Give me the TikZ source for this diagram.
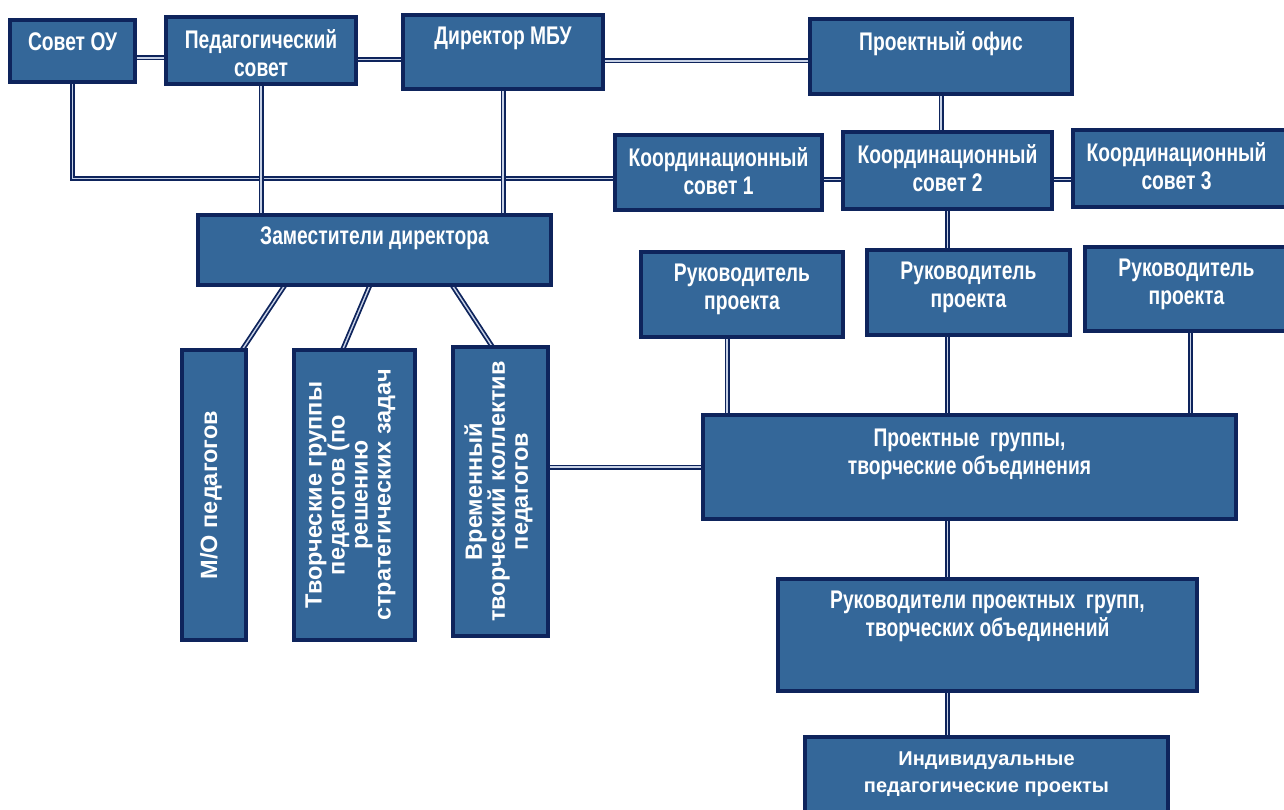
\documentclass[tikz,border=0pt]{standalone}
\usepackage{fontspec}
\setmainfont{Liberation Sans}
\newfontfamily\cond[FakeStretch=0.755]{Liberation Sans}
\usepackage{tikz}
\usetikzlibrary{positioning,calc,backgrounds}
\usepackage{xcolor}
\definecolor{boxfill}{RGB}{52,103,153}
\definecolor{boxline}{RGB}{14,36,92}
\definecolor{linelight}{RGB}{200,210,230}

\tikzset{
  blk/.style={draw=boxline, fill=boxfill, line width=4pt, inner sep=0pt, outer sep=0pt, anchor=north west},
  ttl/.style={anchor=north, inner sep=0pt, text=white, align=center,
    font=\cond\bfseries\fontsize{25.5}{28}\selectfont},
  ttlw/.style={anchor=north, inner sep=0pt, text=white, align=center,
    font=\bfseries\fontsize{20}{27}\selectfont},
  vtxt/.style={rotate=90, inner sep=0pt, text=white, align=center,
    font=\bfseries\fontsize{23.5}{23}\selectfont},
  conn/.style={draw=boxline, line width=1.8pt, double=linelight, double distance=1.4pt}
}

\begin{document}
\begin{tikzpicture}[x=1pt, y=-1pt]
  \useasboundingbox (0,0) rectangle (1284,810);

  % Top row
  \node[blk, minimum width=125pt, minimum height=62pt] (sovet) at (10,20) {};
  \node[ttl] at ([yshift=-12pt]sovet.north) {Совет ОУ};
  \node[blk, minimum width=190pt, minimum height=67pt] (pedsov) at (166,17) {};
  \node[ttl] at ([yshift=-12pt]pedsov.north) {Педагогический\\совет};
  \node[blk, minimum width=200pt, minimum height=74pt] (dir) at (403,15) {};
  \node[ttl] at ([yshift=-12pt]dir.north) {Директор МБУ};
  \node[blk, minimum width=262pt, minimum height=75pt] (office) at (810,19) {};
  \node[ttl] at ([yshift=-12pt]office.north) {Проектный офис};

  % Coordination councils
  \node[blk, minimum width=207pt, minimum height=75pt] (koord1) at (615,135) {};
  \node[ttl] at ([yshift=-12pt]koord1.north) {Координационный\\совет 1};
  \node[blk, minimum width=209pt, minimum height=77pt] (koord2) at (843,132) {};
  \node[ttl] at ([yshift=-12pt]koord2.north) {Координационный\\совет 2};
  \node[blk, minimum width=217pt, minimum height=77pt] (koord3) at (1073,130) {};
  \node[ttl] at ([xshift=-5pt, yshift=-12pt]koord3.north) {Координационный\\совет 3};

  % Deputies
  \node[blk, minimum width=353pt, minimum height=70pt] (zam) at (198,215) {};
  \node[ttl] at ([yshift=-12pt]zam.north) {Заместители директора};

  % Project leaders
  \node[blk, minimum width=202pt, minimum height=85pt] (ruk1) at (641,252) {};
  \node[ttl] at ([yshift=-12pt]ruk1.north) {Руководитель\\проекта};
  \node[blk, minimum width=203pt, minimum height=85pt] (ruk2) at (867,250) {};
  \node[ttl] at ([yshift=-12pt]ruk2.north) {Руководитель\\проекта};
  \node[blk, minimum width=211pt, minimum height=84pt] (ruk3) at (1085,247) {};
  \node[ttl] at ([xshift=-4pt, yshift=-12pt]ruk3.north) {Руководитель\\проекта};

  % Vertical boxes
  \node[blk, minimum width=64pt, minimum height=290pt] (mo) at (182,350) {};
  \node[vtxt] at ([xshift=-3pt]mo.center) {М/О педагогов};
  \node[blk, minimum width=121pt, minimum height=290pt] (tvor) at (294,350) {};
  \node[vtxt] at ([xshift=-4pt]tvor.center) {Творческие группы\\педагогов (по\\решению\\стратегических задач};
  \node[blk, minimum width=95pt, minimum height=289pt] (vrem) at (453,347) {};
  \node[vtxt] at ([xshift=-2pt]vrem.center) {Временный\\творческий коллектив\\педагогов};

  % Project groups
  \node[blk, minimum width=533pt, minimum height=104pt] (proj) at (703,415) {};
  \node[ttl] at ([yshift=-14pt]proj.north) {Проектные\ \ группы,\\творческие объединения};
  \node[blk, minimum width=419pt, minimum height=112pt] (rukgr) at (778,579) {};
  \node[ttl] at ([yshift=-12pt]rukgr.north) {Руководители проектных\ \ групп,\\творческих объединений};
  \node[blk, minimum width=363pt, minimum height=93pt] (indiv) at (805,737) {};
  \node[ttlw] at ([yshift=-15pt]indiv.north) {Индивидуальные\\педагогические проекты};

  % Connectors
  \begin{scope}[on background layer]
    \draw[conn] ([yshift=-7pt]sovet.east) -- ([yshift=-7pt]sovet.east -| pedsov.west);
    \draw[conn] ([yshift=-9pt]pedsov.east) -- ([yshift=-9pt]pedsov.east -| dir.west);
    \draw[conn] ([yshift=-9pt]dir.east) -- ([yshift=-9pt]dir.east -| office.west);
    \draw[conn] (sovet.south) |- ([yshift=-6pt]koord1.west);
    \draw[conn] (pedsov.south) -- (pedsov.south |- zam.north);
    \draw[conn] (dir.south) -- (dir.south |- zam.north);
    \draw[conn] (office.south) -- (office.south |- koord2.north);
    \draw[conn] ([yshift=-7pt]koord1.east) -- ([yshift=-7pt]koord1.east -| koord2.west);
    \draw[conn] ([yshift=-9pt]koord2.east) -- ([yshift=-9pt]koord2.east -| koord3.west);
    \draw[conn] (koord2.south) -- (koord2.south |- ruk2.north);
    \draw[conn] ([xshift=87pt]zam.south west) -- ([xshift=-4pt]mo.north east);
    \draw[conn] ([xshift=172pt]zam.south west) -- ([xshift=-12pt]tvor.north);
    \draw[conn] ([xshift=254pt]zam.south west) -- ([xshift=-8pt]vrem.north);
    \draw[conn] (proj.west) -- (proj.west -| vrem.east);
    \draw[conn] ([xshift=-15pt]ruk1.south) -- ([xshift=-15pt]ruk1.south |- proj.north);
    \draw[conn] (koord2.south |- ruk2.south) -- (koord2.south |- proj.north);
    \draw[conn] (ruk3.south) -- (ruk3.south |- proj.north);
    \draw[conn] (koord2.south |- proj.south) -- (koord2.south |- rukgr.north);
    \draw[conn] (koord2.south |- rukgr.south) -- (koord2.south |- indiv.north);
  \end{scope}
\end{tikzpicture}
\end{document}
